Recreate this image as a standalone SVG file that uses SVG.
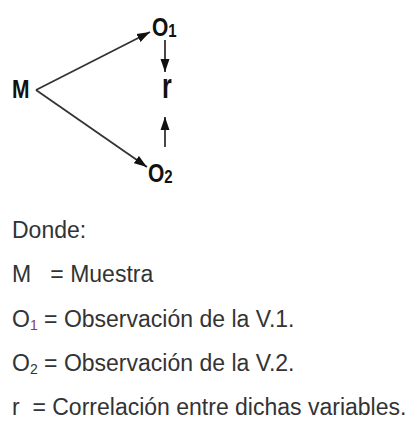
<svg xmlns="http://www.w3.org/2000/svg" width="416" height="428" viewBox="0 0 416 428">
<style>
.b{font-family:"Liberation Sans",Arial,sans-serif;font-weight:bold;fill:#111}
.t{font-family:"Liberation Sans",Arial,sans-serif;fill:#333;font-size:23px}
.c{stroke:#333;stroke-width:1.8;fill:none}
</style>
<defs>
<marker id="ah" viewBox="0 0 13 10" refX="13" refY="5" markerWidth="13" markerHeight="10" markerUnits="userSpaceOnUse" orient="auto"><path d="M0,0.5 L13,5 L0,9.5 z" fill="#111"/></marker>
</defs>
<g id="connectors">
<line class="c" x1="36" y1="90" x2="150" y2="32" marker-end="url(#ah)"/>
<line class="c" x1="36" y1="90" x2="147" y2="167" marker-end="url(#ah)"/>
<line class="c" x1="165" y1="40" x2="165" y2="72" marker-end="url(#ah)"/>
<line class="c" x1="165" y1="147" x2="165" y2="117" marker-end="url(#ah)"/>
</g>
<g id="M"><text class="b" font-size="21" transform="translate(12,98) scale(1,1.2)">M</text></g>
<g id="O1"><text class="b" font-size="21" transform="translate(152,36) scale(1,1.2)">O<tspan font-size="15" dy="1">1</tspan></text></g>
<g id="r"><text class="b" font-size="25" transform="translate(162,98) scale(1,1.4)">r</text></g>
<g id="O2"><text class="b" font-size="21" transform="translate(148,182) scale(1,1.2)">O<tspan font-size="15" dy="1">2</tspan></text></g>
<g id="legend">
<text class="t" x="12" y="238">Donde:</text>
<text class="t" x="12" y="282" xml:space="preserve">M   = Muestra</text>
<text class="t" x="12" y="327">O<tspan font-size="14" dy="3" fill="#8b3a62">1</tspan><tspan dy="-3"> = Observación de la V.1.</tspan></text>
<text class="t" x="12" y="371">O<tspan font-size="14" dy="3">2</tspan><tspan dy="-3"> = Observación de la V.2.</tspan></text>
<text class="t" x="12" y="415" xml:space="preserve">r  = Correlación entre dichas variables.</text>
</g>
</svg>
